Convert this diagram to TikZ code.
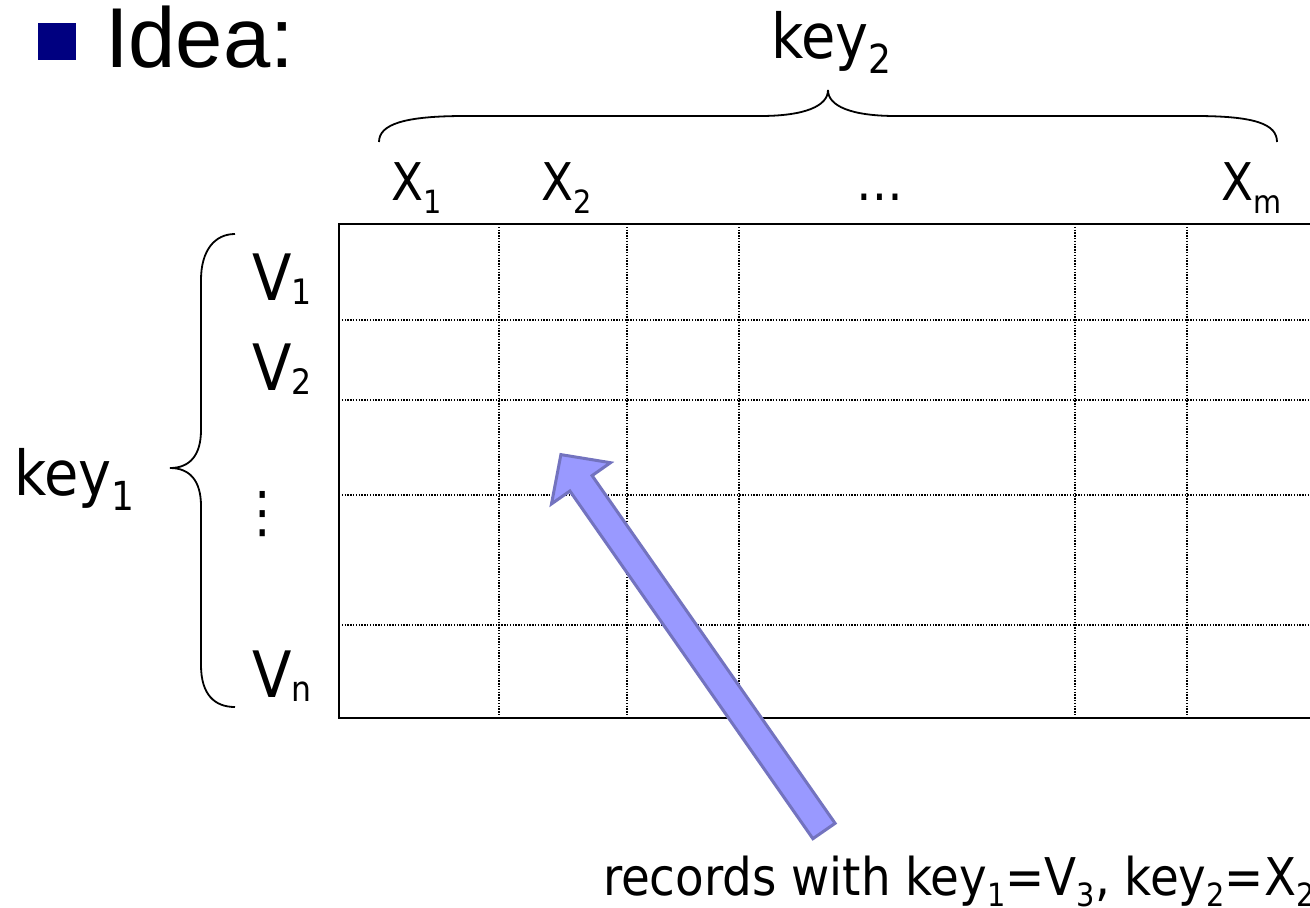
\documentclass[tikz,border=0pt]{standalone}
\usepackage{fontspec}
\setmainfont{DejaVu Sans Condensed}
\newfontfamily\ideafont{Liberation Sans}
\definecolor{bulletnavy}{RGB}{0,0,128}
\definecolor{arrowfill}{RGB}{153,153,255}
\definecolor{arrowline}{RGB}{115,115,191}
\newcommand\lowsub[3]{\raisebox{-#1pt}{\fontsize{#2}{#2}\selectfont #3}}
\tikzset{
  lab/.style={inner sep=0, outer sep=0, anchor=base west},
  xlab/.style={lab, font=\fontsize{52}{52}\selectfont},
  vlab/.style={lab, font=\fontsize{64}{64}\selectfont},
  klab/.style={lab, font=\fontsize{62}{62}\selectfont},
  solidline/.style={line width=2pt, black},
  gridline/.style={line width=1.5pt, black, dash pattern=on 1.4pt off 1.4pt},
  bracepath/.style={line width=1.8pt, black},
}
\begin{document}
\begin{tikzpicture}[x=1pt,y=-1pt]
\useasboundingbox (0,0) rectangle (1310,908);
\clip (0,0) rectangle (1310,908);
% title
\node (bul) [fill=bulletnavy, minimum width=38, minimum height=37, inner sep=0, anchor=north west] at (38,23) {};
\node (idea) [lab, font=\ideafont\fontsize{85}{85}\selectfont] at (105,67) {Idea:};
% table
\draw[gridline] (499,224) -- (499,718) (627,224) -- (627,718) (739,224) -- (739,718)
  (1075,224) -- (1075,718) (1187,224) -- (1187,718);
\draw[gridline] (339,320) -- (1320,320) (339,400) -- (1320,400) (339,495) -- (1320,495) (339,625) -- (1320,625);
\draw[solidline] (1320,224) -- (339,224) -- (339,718) -- (1320,718);
% column labels
\node (x1) [xlab] at (391,200) {X\lowsub{13}{32}{1}};
\node (x2) [xlab] at (541,200) {X\lowsub{13}{32}{2}};
\node (xdots) [xlab, anchor=base] at (880,200) {…};
\node (xm) [xlab] at (1221,200) {X\lowsub{13}{32}{m}};
% row labels
\node (v1) [vlab] at (252,300) {V\lowsub{4}{35}{1}};
\node (v2) [vlab] at (252,390) {V\lowsub{4}{35}{2}};
\node (vdots) [lab, anchor=base, font=\fontsize{56}{56}\selectfont] at (263,531) {⋮};
\node (vn) [vlab] at (252,697) {V\lowsub{4}{35}{n}};
% keys
\node (key1) [klab] at (14,495) {key\lowsub{15}{40}{1}};
\node (key2) [klab] at (771,58) {key\lowsub{15}{40}{2}};
% braces
\draw[bracepath] (379,142) .. controls (379,124) and (405,116) .. (465,116) -- (760,116)
  .. controls (805,116) and (828,106) .. (828,90)
  .. controls (828,106) and (851,116) .. (896,116) -- (1195,116)
  .. controls (1255,116) and (1277,124) .. (1277,142);
\draw[bracepath] (235,234) .. controls (215,234) and (201,250) .. (201,280) -- (201,430)
  .. controls (201,455) and (190,468) .. (170,468)
  .. controls (190,468) and (201,481) .. (201,506) -- (201,665)
  .. controls (201,695) and (215,707) .. (235,707);
% caption
\node (rec) [lab, font=\fontsize{52}{52}\selectfont] at (603,895) {records with key\lowsub{11}{32}{1}=V\lowsub{11}{32}{3}, key\lowsub{11}{32}{2}=X\lowsub{11}{32}{2}};
% block arrow
\draw[fill=arrowfill, draw=arrowline, line width=3pt, line join=miter]
  (835.1,823.3) -- (592.1,475.6) -- (610.5,462.7) -- (560.9,454.6) -- (551.5,503.9)
  -- (569.9,491.0) -- (812.9,838.7) -- cycle;
\end{tikzpicture}
\end{document}
